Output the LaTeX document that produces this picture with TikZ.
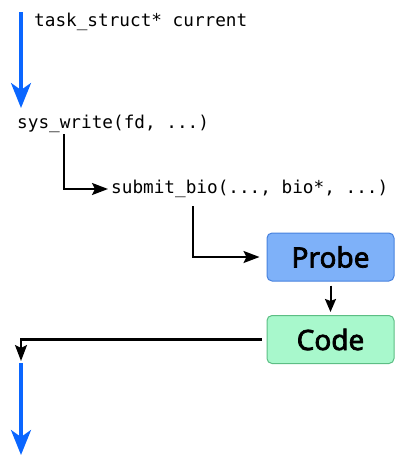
\documentclass[tikz,border=0pt]{standalone}
\usepackage{fontspec}
\setmonofont{DejaVu Sans Mono}
\newfontfamily\boxfont{Noto Sans}[FakeBold=2.5]
\usetikzlibrary{arrows.meta}
\definecolor{flowblue}{RGB}{10,102,255}
\definecolor{probefill}{RGB}{126,177,249}
\definecolor{probedraw}{RGB}{72,130,222}
\definecolor{codefill}{RGB}{168,248,204}
\definecolor{codedraw}{RGB}{92,190,132}
\tikzset{
  codetext/.style={inner sep=0pt, anchor=west, font=\ttfamily\fontsize{17.7}{20}\selectfont},
  flow/.style={draw=flowblue, line width=3.2pt, -{Stealth[length=25pt,width=20pt,inset=7pt]}},
  link/.style={draw=black, line width=2.2pt, -{Stealth[length=16pt,width=12pt,inset=3pt]}},
  smalllink/.style={draw=black, line width=2pt, -{Stealth[length=13pt,width=11pt,inset=2pt]}},
  hookbox/.style={rounded corners=5pt, line width=1pt, minimum width=127pt, minimum height=48pt, inner sep=0pt, font=\boxfont\fontsize{28}{32}\selectfont},
}
\begin{document}
\begin{tikzpicture}[x=1pt,y=-1pt]
\useasboundingbox (0,0) rectangle (395,456);
\node[codetext] (cur) at (34,22) {task\_struct* current};
\node[codetext] (sys) at (17,124) {sys\_write(fd, ...)};
\node[codetext] (sub) at (111,189) {submit\_bio(..., bio*, ...)};
\node[hookbox, fill=probefill, draw=probedraw] (probe) at (330.5,257) {Probe};
\node[hookbox, fill=codefill, draw=codedraw] (code) at (330.5,339.5) {Code};
\coordinate (top) at (21,12);
\coordinate (tip1) at (21,108);
\coordinate (s1) at (64,134);
\coordinate (s2) at (193,206);
\coordinate (ret) at (21,361);
\coordinate (bot0) at (21,363);
\coordinate (bot) at (21,455);
\draw[flow] (top) -- (tip1);
\draw[link, shorten >=3pt] (s1) |- (sub.west);
\draw[link, shorten >=7pt] (s2) |- (probe.west);
\draw[smalllink, shorten <=4pt, shorten >=3pt] (probe.south) -- (code.north);
\draw[link, shorten <=5pt] (code.west) -| (ret);
\draw[flow] (bot0) -- (bot);
\end{tikzpicture}
\end{document}
